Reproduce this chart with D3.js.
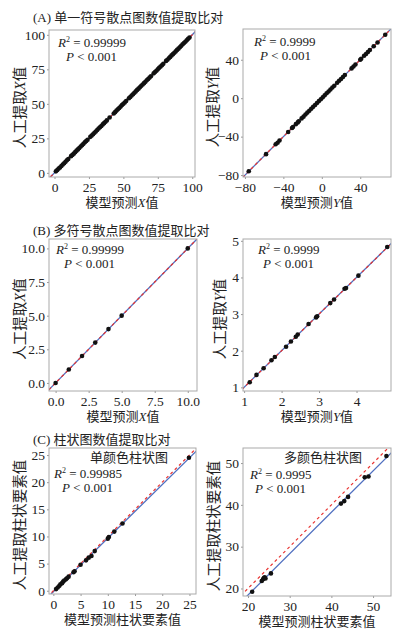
<!DOCTYPE html>
<html>
<head>
<meta charset="utf-8">
<script src="https://cdn.jsdelivr.net/npm/d3@7"></script>
<style>
  body { margin: 0; background: #fff; }
  svg { font-family: "Liberation Serif", "Noto Sans CJK SC", serif; }
  .tick line { stroke: #999; }
  .tick text { font-size: 13.5px; fill: #222; }
</style>
</head>
<body>
<div id="chart"></div>
<script>
// data: [model prediction, manual extraction]
const singleX = [[1,1.1],[2,2],[3,3.1],[4,3.9],[5,5],[6,6.1],[7,7],[8,8],[9,9.1],[10,10],[12,12.1],[13,13],[14,13.9],[15,15],[16,16.1],[17,17],[18,18],[19,19.1],[20,20],[21,21],[22,22.1],[23,23],[24,24],[26,26.1],[27,27],[28,28],[29,29.1],[30,30],[31,31],[32,32.1],[33,33],[34,34],[35,35.1],[36,36],[37,37],[38,38],[40,40.1],[43,43],[44,44],[45,45.1],[46,46],[47,47],[48,48],[49,49.1],[50,50],[51,51],[52,52.1],[54,54],[55,55],[56,56.1],[57,57],[58,58],[59,59],[60,60.1],[61,61],[62,62],[63,63.1],[64,64],[65,65],[66,66],[67,67.1],[68,68],[69,69],[70,70],[72,72.1],[73,73],[74,74],[75,75],[76,76.1],[77,77],[78,78],[79,79],[81,81.1],[82,82],[83,83],[84,84],[85,85.1],[86,86],[87,87],[88,88],[89,89.1],[90,90],[91,91],[92,92],[93,93.1],[94,94],[95,95],[96,96],[97,97.1],[98,98]];
const singleY = [[-76,-76],[-58,-58.2],[-48,-48],[-46,-46.3],[-44,-44],[-35,-35.2],[-31,-31],[-30,-30.1],[-27,-27],[-25,-25.2],[-24,-24],[-21,-21],[-19,-19.2],[-17,-17],[-15,-15],[-13,-13.1],[-11,-11],[-9,-9],[-7,-7.1],[-5,-5],[-3,-3],[-1,-1.1],[1,1],[3,3],[5,5.1],[7,7],[9,9],[11,11.1],[13,13],[16,16],[18,18.1],[20,20],[22,22],[24,24.1],[31,31],[33,33],[35,35.1],[40,40],[41,41],[44,44.1],[46,46],[48,48],[50,50.1],[54,54],[58,58],[66,66]];
const multiX = [[0,0],[1,1],[2,2],[3,3],[4,4],[5,5],[10,10]];
const multiY = [[1.15,1.14],[1.33,1.34],[1.52,1.52],[1.73,1.74],[1.82,1.83],[2.12,2.11],[2.25,2.25],[2.38,2.38],[2.43,2.44],[2.72,2.73],[2.92,2.91],[2.95,2.94],[3.3,3.3],[3.4,3.4],[3.68,3.69],[3.72,3.71],[4.05,4.05],[4.82,4.83]];
const barSingle = [[0.5,0.3],[0.8,0.6],[1.1,0.9],[1.3,1.2],[1.6,1.4],[1.8,1.7],[2.0,1.9],[2.3,2.1],[2.5,2.3],[2.8,2.6],[3.7,3.4],[3.9,3.6],[5.0,4.8],[6.0,5.6],[6.5,6.1],[7.0,6.4],[7.6,7.3],[10.0,9.6],[10.2,9.9],[11.2,10.9],[12.7,12.4],[24.9,24.5]];
const barMulti = [[21,19.2],[23.3,21.8],[23.6,22.2],[23.8,22.5],[24,22.7],[24.2,22.4],[25.5,23.6],[42.3,40.3],[43.1,40.9],[44,41.9],[48,46.6],[48.9,46.8],[53.2,51.7]];

const sectionTitles = ["(A) 单一符号散点图数值提取比对", "(B) 多符号散点图数值提取比对", "(C) 柱状图数值提取比对"];
const r2Values = ["0.99999", "0.9999", "0.99999", "0.9999", "0.99985", "0.9995"];
const pText = "P < 0.001";
const subTitles = [null, null, null, null, "单颜色柱状图", "多颜色柱状图"];
// [prefix, italic var, suffix]
const xLabels = [["模型预测","X","值"],["模型预测","Y","值"],["模型预测","X","值"],["模型预测","Y","值"],["模型预测柱状要素值","",""],["模型预测柱状要素值","",""]];
const yLabels = [["人工提取","X","值"],["人工提取","Y","值"],["人工提取","X","值"],["人工提取","Y","值"],["人工提取柱状要素值","",""],["人工提取柱状要素值","",""]];
const xTicks = [[0,25,50,75,100],[-80,-40,0,40],[0,2.5,5,7.5,10],[1,2,3,4],[0,5,10,15,20,25],[20,30,40,50]];
const yTicks = [[0,25,50,75,100],[-80,-40,0,40],[0,2.5,5,7.5,10],[1,2,3,4,5],[0,5,10,15,20,25],[20,30,40,50]];

const datasets = [singleX, singleY, multiX, multiY, barSingle, barMulti];

// layout
const layout = [
  {x:49, y:30, w:146, h:147, xd:[-4,102], yd:[-3,103.5], fmt:"d", r2:[9,17], p:[17,31], yl:20},
  {x:243, y:29, w:148, h:148, xd:[-82,72], yd:[-82,72], fmt:"d", r2:[11,17], p:[17,31], yl:213},
  {x:49, y:239, w:148, h:152, xd:[-0.5,10.7], yd:[-0.6,10.7], fmt:".1f", r2:[7,15], p:[15,29], yl:20},
  {x:243, y:239, w:148, h:152, xd:[0.97,4.92], yd:[0.9,5.05], fmt:"d", r2:[15,15], p:[20,29], yl:220},
  {x:49, y:448, w:147, h:146, xd:[-0.8,26.2], yd:[-0.6,26.3], fmt:"d", r2:[5,30], p:[13,44], yl:20, sub:[80,14]},
  {x:243, y:448, w:148, h:148, xd:[18.8,54.3], yd:[18.2,53.6], fmt:"d", r2:[7,31], p:[12,45], yl:214, sub:[80,14]}
];
const titlePos = [[33,22],[33,235],[33,444]];

const W = 394, H = 636;
const svg = d3.select("#chart").append("svg").attr("width", W).attr("height", H);

svg.selectAll(".title").data(sectionTitles).enter().append("text")
  .attr("x", (d,i) => titlePos[i][0]).attr("y", (d,i) => titlePos[i][1])
  .attr("font-size", 13).attr("fill", "#222").text(d => d);

function label(sel, parts) {
  sel.append("tspan").text(parts[0]);
  if (parts[1]) sel.append("tspan").attr("font-style", "italic").attr("font-family", "Liberation Serif").text(parts[1]);
  if (parts[2]) sel.append("tspan").text(parts[2]);
}

datasets.forEach((data, i) => {
  const L = layout[i];
  const g = svg.append("g");
  const x = d3.scaleLinear().domain(L.xd).range([L.x, L.x + L.w]);
  const y = d3.scaleLinear().domain(L.yd).range([L.y + L.h, L.y]);
  const fmt = d3.format(L.fmt);

  g.append("clipPath").attr("id", "clip" + i).append("rect")
    .attr("x", L.x).attr("y", L.y).attr("width", L.w).attr("height", L.h);

  // axes
  const xa = g.append("g").attr("transform", `translate(0,${L.y + L.h})`)
    .call(d3.axisBottom(x).tickValues(xTicks[i]).tickFormat(fmt).tickSize(2).tickSizeOuter(0).tickPadding(3));
  const ya = g.append("g").attr("transform", `translate(${L.x},0)`)
    .call(d3.axisLeft(y).tickValues(yTicks[i]).tickFormat(fmt).tickSize(2).tickSizeOuter(0).tickPadding(2));
  xa.select(".domain").remove();
  ya.select(".domain").remove();
  xa.selectAll("text").attr("font-family", "Liberation Serif");
  ya.selectAll("text").attr("font-family", "Liberation Serif");

  const plot = g.append("g").attr("clip-path", `url(#clip${i})`);

  // least squares fit
  const mx = d3.mean(data, d => d[0]), my = d3.mean(data, d => d[1]);
  const b = d3.sum(data, d => (d[0] - mx) * (d[1] - my)) / d3.sum(data, d => (d[0] - mx) ** 2);
  const a = my - b * mx;
  const lo = Math.min(L.xd[0], L.yd[0]) - 5, hi = Math.max(L.xd[1], L.yd[1]) + 5;

  plot.append("line")
    .attr("x1", x(lo)).attr("y1", y(a + b * lo)).attr("x2", x(hi)).attr("y2", y(a + b * hi))
    .attr("stroke", "#4f6fc0").attr("stroke-width", 1.3);
  plot.append("line")
    .attr("x1", x(lo)).attr("y1", y(lo)).attr("x2", x(hi)).attr("y2", y(hi))
    .attr("stroke", "#e8312f").attr("stroke-width", 1.2).attr("stroke-dasharray", "3,3");

  plot.selectAll("circle").data(data).enter().append("circle")
    .attr("cx", d => x(d[0])).attr("cy", d => y(d[1])).attr("r", 2.3).attr("fill", "#111");

  g.append("rect").attr("x", L.x).attr("y", L.y).attr("width", L.w).attr("height", L.h)
    .attr("fill", "none").attr("stroke", "#aaa").attr("stroke-width", 1);

  // stats text
  const r2 = g.append("text").attr("x", L.x + L.r2[0]).attr("y", L.y + L.r2[1])
    .attr("font-size", 13).attr("fill", "#222");
  r2.append("tspan").attr("font-style", "italic").text("R");
  r2.append("tspan").attr("font-size", 8).attr("dy", -5).text("2");
  r2.append("tspan").attr("dy", 5).text(" = " + r2Values[i]);
  const p = g.append("text").attr("x", L.x + L.p[0]).attr("y", L.y + L.p[1])
    .attr("font-size", 13).attr("fill", "#222");
  p.append("tspan").attr("font-style", "italic").text("P");
  p.append("tspan").text(pText.slice(1));

  if (subTitles[i]) {
    g.append("text").attr("x", L.x + L.sub[0]).attr("y", L.y + L.sub[1])
      .attr("text-anchor", "middle").attr("font-size", 13).attr("fill", "#222")
      .attr("font-family", "Noto Sans CJK SC").text(subTitles[i]);
  }

  // axis labels
  const xl = g.append("text").attr("x", L.x + L.w / 2).attr("y", L.y + L.h + 30)
    .attr("text-anchor", "middle").attr("font-size", 13).attr("fill", "#222");
  label(xl, xLabels[i]);
  const cy = L.y + L.h / 2 + 4;
  const yl = g.append("text").attr("transform", `translate(${L.yl},${cy}) rotate(-90)`)
    .attr("text-anchor", "middle").attr("dy", "0.35em").attr("font-size", 14.5).attr("fill", "#222");
  label(yl, yLabels[i]);
});
</script>
</body>
</html>
